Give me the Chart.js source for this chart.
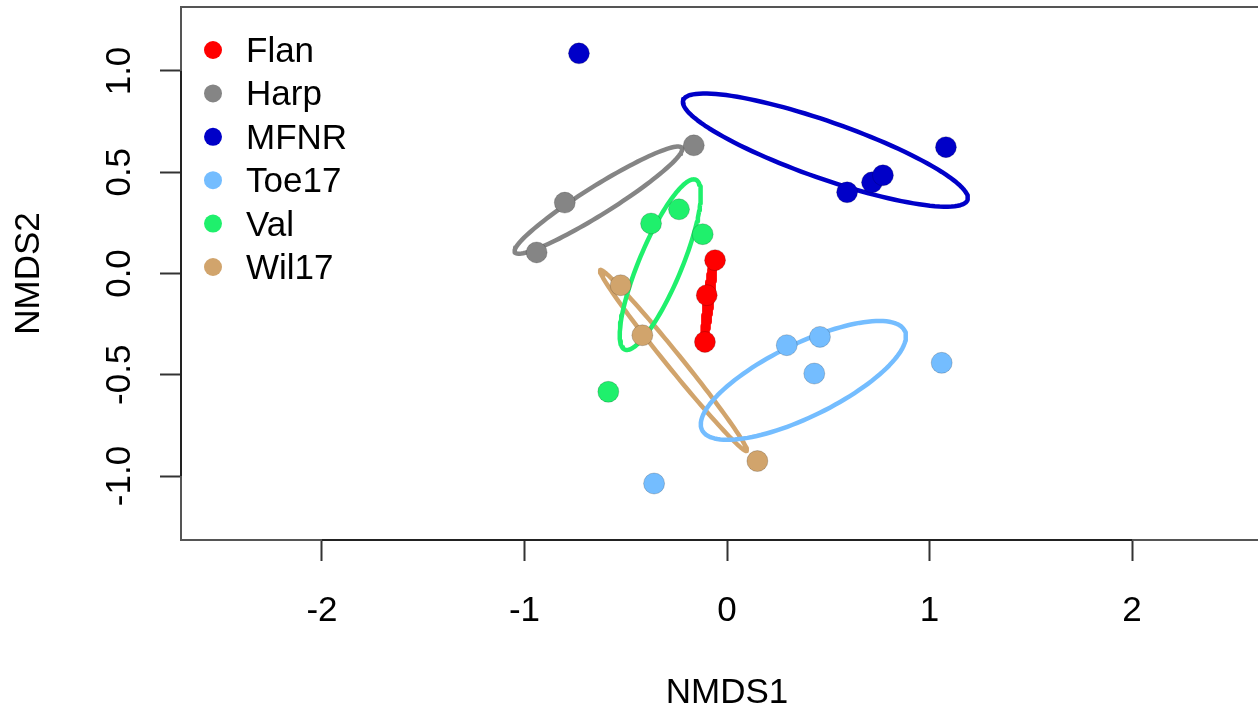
<!DOCTYPE html>
<html>
<head>
<meta charset="utf-8">
<script src="https://cdn.jsdelivr.net/npm/chart.js@4"></script>
<style>
  html, body { margin: 0; padding: 0; background: #fff; overflow: hidden; }
  #wrap { width: 1274px; height: 713px; }
</style>
</head>
<body>
<div id="wrap"><canvas id="nmdsChart" width="1274" height="713"></canvas></div>
<script>
const groups = ["Flan", "Harp", "MFNR", "Toe17", "Val", "Wil17"];
const groupColors = ["#ff0000", "#858585", "#0000c8", "#74bdff", "#1ff06c", "#d1a46c"];

// site scores on the first two NMDS axes, one pair of arrays per group
const flanX = [-0.059, -0.100, -0.109];
const flanY = [0.066, -0.107, -0.338];
const harpX = [-0.164, -0.801, -0.940];
const harpY = [0.633, 0.350, 0.104];
const mfnrX = [-0.731, 1.081, 0.593, 0.716, 0.770];
const mfnrY = [1.087, 0.624, 0.401, 0.450, 0.485];
const toeX = [0.295, 0.459, 0.431, 1.060, -0.360];
const toeY = [-0.354, -0.313, -0.494, -0.441, -1.037];
const valX = [-0.375, -0.237, -0.120, -0.586];
const valY = [0.247, 0.317, 0.194, -0.584];
const wilX = [-0.525, -0.418, 0.150];
const wilY = [-0.058, -0.305, -0.926];

const xTicks = [-2, -1, 0, 1, 2];
const yTicks = [-1, -0.5, 0, 0.5, 1];

const groupX = [flanX, harpX, mfnrX, toeX, valX, wilX];
const groupY = [flanY, harpY, mfnrY, toeY, valY, wilY];

const FONT = "'Liberation Sans', Arial, Helvetica, sans-serif";

// standard deviation ellipse around a group's centroid (like ordiellipse kind = "sd")
function sdEllipse(xs, ys, steps) {
  const n = xs.length;
  const mx = xs.reduce((a, b) => a + b, 0) / n;
  const my = ys.reduce((a, b) => a + b, 0) / n;
  let sxx = 0, syy = 0, sxy = 0;
  for (let i = 0; i < n; i++) {
    const dx = xs[i] - mx, dy = ys[i] - my;
    sxx += dx * dx; syy += dy * dy; sxy += dx * dy;
  }
  sxx /= n - 1; syy /= n - 1; sxy /= n - 1;
  const half = (sxx + syy) / 2;
  const root = Math.sqrt(((sxx - syy) / 2) ** 2 + sxy * sxy);
  const a = Math.sqrt(Math.max(half + root, 0));
  const b = Math.sqrt(Math.max(half - root, 0));
  const phi = 0.5 * Math.atan2(2 * sxy, sxx - syy);
  const pts = [];
  for (let k = 0; k <= steps; k++) {
    const t = (2 * Math.PI * k) / steps;
    const u = a * Math.cos(t), v = b * Math.sin(t);
    pts.push({
      x: mx + u * Math.cos(phi) - v * Math.sin(phi),
      y: my + u * Math.sin(phi) + v * Math.cos(phi),
    });
  }
  return pts;
}

const datasets = [];
groups.forEach((g, i) => {
  datasets.push({
    label: g + " ellipse",
    data: sdEllipse(groupX[i], groupY[i], 120),
    showLine: true,
    borderColor: groupColors[i],
    borderWidth: i === 0 ? 6.5 : 4.5,
    borderCapStyle: "round",
    borderJoinStyle: "round",
    pointRadius: 0,
    fill: false,
    tension: 0,
    order: 2,
  });
  datasets.push({
    label: g,
    data: groupX[i].map((x, j) => ({ x: x, y: groupY[i][j] })),
    backgroundColor: groupColors[i],
    borderColor: "rgba(0,0,0,0.18)",
    borderWidth: 1,
    pointRadius: 10.5,
    order: 1,
  });
});

// frame, axis lines and rotated y tick labels
const framePlugin = {
  id: "frame",
  afterDraw(chart) {
    const { ctx, chartArea: ca, scales } = chart;
    const xs = scales.x, ys = scales.y;
    ctx.save();
    ctx.strokeStyle = "#555";
    ctx.lineWidth = 2;
    ctx.strokeRect(ca.left, ca.top, ca.right - ca.left, ca.bottom - ca.top);
    ctx.strokeStyle = "#222";
    ctx.beginPath();
    ctx.moveTo(xs.getPixelForValue(xTicks[0]), ca.bottom);
    ctx.lineTo(xs.getPixelForValue(xTicks[xTicks.length - 1]), ca.bottom);
    ctx.moveTo(ca.left, ys.getPixelForValue(yTicks[0]));
    ctx.lineTo(ca.left, ys.getPixelForValue(yTicks[yTicks.length - 1]));
    ctx.stroke();

    ctx.fillStyle = "#000";
    ctx.font = "35px " + FONT;
    ctx.textAlign = "center";
    ctx.textBaseline = "alphabetic";
    yTicks.forEach((v) => {
      ctx.save();
      ctx.translate(130, ys.getPixelForValue(v));
      ctx.rotate(-Math.PI / 2);
      ctx.fillText(v.toFixed(1), 0, 0);
      ctx.restore();
    });
    ctx.restore();
  },
};

const legendPlugin = {
  id: "groupLegend",
  afterDraw(chart) {
    const ctx = chart.ctx;
    ctx.save();
    ctx.font = "35px " + FONT;
    ctx.textAlign = "left";
    ctx.textBaseline = "alphabetic";
    groups.forEach((g, i) => {
      const base = 62 + i * 43.4;
      ctx.fillStyle = groupColors[i];
      ctx.beginPath();
      ctx.arc(213, base - 12, 9, 0, Math.PI * 2);
      ctx.fill();
      ctx.fillStyle = "#000";
      ctx.fillText(g, 246, base);
    });
    ctx.restore();
  },
};

new Chart(document.getElementById("nmdsChart"), {
  type: "scatter",
  data: { datasets: datasets },
  plugins: [framePlugin, legendPlugin],
  options: {
    responsive: false,
    animation: false,
    devicePixelRatio: 1,
    events: [],
    layout: { autoPadding: false, padding: { top: 7, left: 0, right: 1, bottom: 0 } },
    plugins: {
      legend: { display: false },
      tooltip: { enabled: false },
    },
    scales: {
      x: {
        type: "linear",
        min: -2.696,
        max: 2.696,
        afterBuildTicks: (scale) => { scale.ticks = xTicks.map((v) => ({ value: v })); },
        afterFit: (scale) => { scale.height = 173; },
        border: { display: false },
        grid: { drawOnChartArea: false, drawTicks: true, tickLength: 21, tickWidth: 2, tickColor: "#333" },
        ticks: {
          padding: 29,
          color: "#000",
          font: { family: FONT, size: 35 },
          maxRotation: 0,
          callback: (v) => String(v),
        },
        title: {
          display: true,
          text: "NMDS1",
          color: "#000",
          font: { family: FONT, size: 35, lineHeight: 1.2 },
          padding: { top: 0, bottom: -1 },
        },
      },
      y: {
        type: "linear",
        min: -1.316,
        max: 1.316,
        afterBuildTicks: (scale) => { scale.ticks = yTicks.map((v) => ({ value: v })); },
        afterFit: (scale) => { scale.width = 181; },
        border: { display: false },
        grid: { drawOnChartArea: false, drawTicks: true, tickLength: 21, tickWidth: 2, tickColor: "#333" },
        ticks: { display: false },
        title: {
          display: true,
          text: "NMDS2",
          color: "#000",
          font: { family: FONT, size: 35, lineHeight: 1.2 },
          padding: { top: 8, bottom: 0 },
        },
      },
    },
  },
});
</script>
</body>
</html>
